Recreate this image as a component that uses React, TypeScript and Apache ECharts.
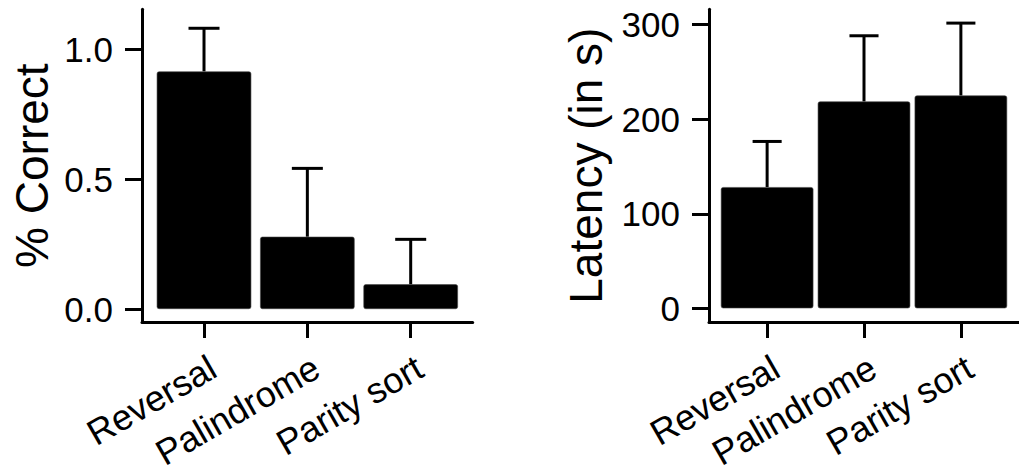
import React, { useEffect, useRef } from "react";
import * as echarts from "echarts";

const categories = ["Reversal", "Palindrome", "Parity sort"];
const categoryPositions = [1, 2, 3];
const correctMean = [0.914, 0.278, 0.095];
const correctUpper = [1.08, 0.541, 0.268];
const latencyMean = [128.2, 218.8, 225.1];
const latencyUpper = [176.5, 288.3, 301.7];
const correctTicks = [0, 0.5, 1.0];
const latencyTicks = [0, 100, 200, 300];

const FONT = "'Liberation Sans', Arial, Helvetica, sans-serif";

function xAxisFor(gridIndex: number) {
  return {
    type: "value",
    gridIndex,
    min: 0.4,
    max: 3.6,
    axisLine: { show: true, onZero: false, lineStyle: { color: "#000", width: 3 } },
    axisTick: {
      show: true,
      customValues: categoryPositions,
      length: 16,
      lineStyle: { color: "#000", width: 3 },
    },
    axisLabel: {
      customValues: categoryPositions,
      formatter: (v: number) => categories[Math.round(v) - 1] ?? "",
      rotate: 30,
      align: "right",
      verticalAlign: "top",
      margin: 27,
      fontSize: 36,
      color: "#000",
      fontFamily: FONT,
    },
    splitLine: { show: false },
  };
}

function yAxisFor(
  gridIndex: number,
  min: number,
  max: number,
  ticks: number[],
  name: string,
  nameGap: number,
  fmt: (v: number) => string
) {
  return {
    type: "value",
    gridIndex,
    min,
    max,
    name,
    nameLocation: "middle",
    nameGap,
    nameTextStyle: { fontSize: 46, color: "#000", fontFamily: FONT },
    axisLine: { show: true, onZero: false, lineStyle: { color: "#000", width: 3 } },
    axisTick: {
      show: true,
      customValues: ticks,
      length: 17,
      lineStyle: { color: "#000", width: 3 },
    },
    axisLabel: {
      customValues: ticks,
      formatter: fmt,
      margin: 29,
      fontSize: 35,
      color: "#000",
      fontFamily: FONT,
    },
    splitLine: { show: false },
  };
}

function errorBarRender(params: any, api: any) {
  const x = api.value(0);
  const lo = api.value(1);
  const hi = api.value(2);
  const p0 = api.coord([x, lo]);
  const p1 = api.coord([x, hi]);
  const c0 = api.coord([x - 0.15, hi]);
  const c1 = api.coord([x + 0.15, hi]);
  const style = { stroke: "#000", lineWidth: 3, fill: "none" };
  return {
    type: "group",
    children: [
      { type: "line", shape: { x1: p0[0], y1: p0[1], x2: p1[0], y2: p1[1] }, style },
      { type: "line", shape: { x1: c0[0], y1: c0[1], x2: c1[0], y2: c1[1] }, style },
    ],
  };
}

export default function App() {
  const ref = useRef<HTMLDivElement>(null);

  useEffect(() => {
    if (!ref.current) return;
    const chart = echarts.init(ref.current, null, { renderer: "svg" });

    const barData = (vals: number[]) => categoryPositions.map((p, i) => [p, vals[i]]);
    const errData = (m: number[], u: number[]) =>
      categoryPositions.map((p, i) => [p, m[i], u[i]]);

    chart.setOption({
      animation: false,
      backgroundColor: "#fff",
      textStyle: { fontFamily: FONT },
      grid: [
        { left: 142, top: 9.3, width: 330.7, height: 312.7 },
        { left: 709, top: 9.3, width: 321, height: 312.7 },
      ],
      xAxis: [xAxisFor(0), xAxisFor(1)],
      yAxis: [
        yAxisFor(0, -0.05, 1.153, correctTicks, "% Correct", 87, (v) => v.toFixed(1)),
        yAxisFor(1, -14.5, 316.3, latencyTicks, "Latency (in s)", 100, (v) => String(Math.round(v))),
      ],
      series: [
        {
          type: "custom",
          xAxisIndex: 0,
          yAxisIndex: 0,
          renderItem: errorBarRender,
          data: errData(correctMean, correctUpper),
          z: 1,
        },
        {
          type: "bar",
          xAxisIndex: 0,
          yAxisIndex: 0,
          barWidth: 94.5,
          data: barData(correctMean),
          itemStyle: { color: "#000", borderRadius: 2, borderColor: "#444", borderWidth: 0.6 },
          z: 2,
        },
        {
          type: "custom",
          xAxisIndex: 1,
          yAxisIndex: 1,
          renderItem: errorBarRender,
          data: errData(latencyMean, latencyUpper),
          z: 1,
        },
        {
          type: "bar",
          xAxisIndex: 1,
          yAxisIndex: 1,
          barWidth: 92.5,
          data: barData(latencyMean),
          itemStyle: { color: "#000", borderRadius: 2, borderColor: "#444", borderWidth: 0.6 },
          z: 2,
        },
      ],
    });

    return () => chart.dispose();
  }, []);

  return (
    <div
      ref={ref}
      style={{ position: "absolute", left: 0, top: 0, width: 1019, height: 474, background: "#fff" }}
    />
  );
}
